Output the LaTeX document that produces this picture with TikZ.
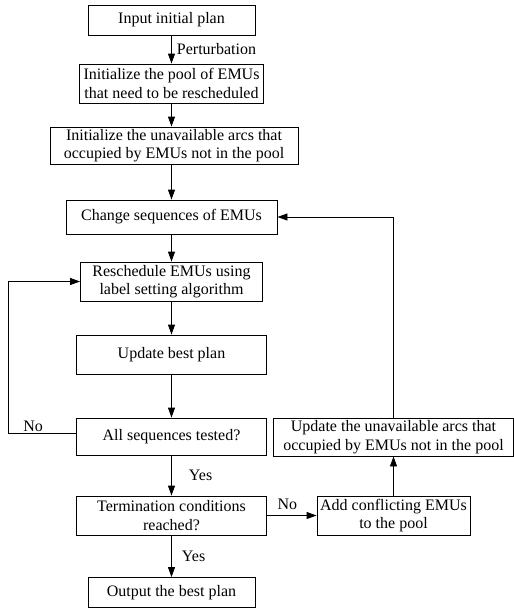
\documentclass[tikz,border=0pt]{standalone}
\usepackage{fontspec}
\setmainfont{Liberation Serif}
\usetikzlibrary{arrows.meta}
\begin{document}
\begin{tikzpicture}[x=1pt, y=-1pt, line width=0.9pt,
    every node/.style={font=\fontsize{16pt}{18.5pt}\selectfont},
    box/.style={draw, fill=white, align=center, inner sep=0pt},
    arr/.style={-{Triangle[length=10pt,width=7pt]}},
    lbl/.style={inner sep=1pt}]
    \useasboundingbox (0,0) rectangle (514,608);

    % Main column
    \node[box, minimum width=167pt, minimum height=30pt] (init) at (171.5,20) {Input initial plan};
    \node[box, minimum width=184pt, minimum height=39pt] (pool) at (171.5,83.5) {Initialize the pool of EMUs\\that need to be rescheduled};
    \node[box, minimum width=248pt, minimum height=37pt] (arcs) at (174,145.5) {Initialize the unavailable arcs that\\occupied by EMUs not in the pool};
    \node[box, minimum width=211pt, minimum height=34pt] (change) at (171.5,217) {Change sequences of EMUs};
    \node[box, minimum width=182pt, minimum height=39pt] (resched) at (171.5,281.5) {Reschedule EMUs using\\label setting algorithm};
    \node[box, minimum width=190pt, minimum height=39pt] (update) at (171.5,354.5) {Update best plan};
    \node[box, minimum width=190pt, minimum height=37pt] (tested) at (171.5,436.5) {All sequences tested?};
    \node[box, minimum width=190pt, minimum height=39pt] (term) at (171.5,515.5) {Termination conditions\\reached?};
    \node[box, minimum width=167pt, minimum height=30pt] (output) at (171.5,592.5) {Output the best plan};

    % Right column
    \node[box, minimum width=240pt, minimum height=38pt] (updarcs) at (393.5,437) {Update the unavailable arcs that\\occupied by EMUs not in the pool};
    \node[box, minimum width=153pt, minimum height=39pt] (add) at (393.5,515.5) {Add conflicting EMUs\\to the pool};

    % Arrows down
    \draw[arr] (init) -- (pool) node[lbl, midway, right=4pt] {Perturbation};
    \draw[arr] (pool.south) -- (pool.south |- arcs.north);
    \draw[arr] (arcs.south -| change) -- (change);
    \draw[arr] (change) -- (resched);
    \draw[arr] (resched) -- (update);
    \draw[arr] (update) -- (tested);
    \draw[arr] (tested) -- (term) node[lbl, midway, right=16pt] {Yes};
    \draw[arr] (term) -- (output) node[lbl, midway, right=9pt] {Yes};

    % Loops
    \coordinate (back) at (8,433);
    \draw[arr] (tested.west |- back) -- (back) node[lbl, pos=0.63, above] {No} |- (resched.west);
    \draw[arr] (term) -- (add) node[lbl, pos=0.41, above=4pt] {No};
    \draw[arr] (add) -- (updarcs);
    \draw[arr] (updarcs) |- (change.east);
\end{tikzpicture}
\end{document}
